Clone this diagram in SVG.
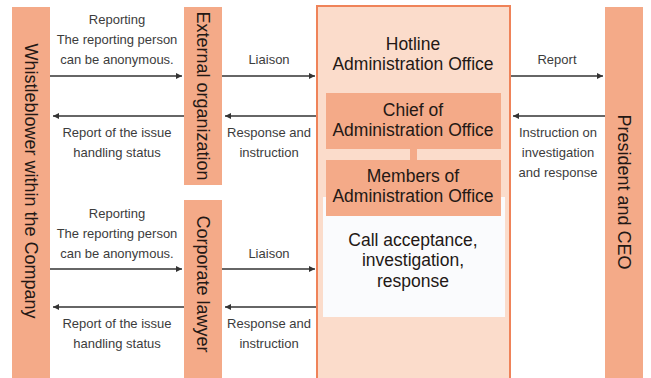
<svg xmlns="http://www.w3.org/2000/svg" width="651" height="378" viewBox="0 0 651 378">
  <defs>
    <marker id="arr" viewBox="0 0 10 10" refX="10" refY="5" markerWidth="6" markerHeight="6" markerUnits="userSpaceOnUse" orient="auto">
      <path d="M0,0 L10,5 L0,10 z" fill="#333"/>
    </marker>
    <style>
      .bar { fill: #f4aa88; }
      .inner { fill: #f4aa88; }
      .frame { fill: #fbdccb; stroke: #ef8359; stroke-width: 2; }
      .panel { fill: #fafbfd; }
      .vt { font-family: "Liberation Sans", Arial, sans-serif; font-size: 18px; fill: #231815; text-anchor: middle; }
      .bt { font-family: "Liberation Sans", Arial, sans-serif; font-size: 17.5px; fill: #231815; text-anchor: middle; }
      .lb { font-family: "Liberation Sans", Arial, sans-serif; font-size: 13px; fill: #3c3c3c; text-anchor: middle; }
      .ln { stroke: #333; stroke-width: 1.6; fill: none; marker-end: url(#arr); }
    </style>
  </defs>
  <rect width="651" height="378" fill="#ffffff"/>

  <!-- left column: whistleblower -->
  <g id="whistleblower">
    <rect class="bar" x="12" y="7" width="38" height="371"/>
    <text class="vt" transform="translate(31,181) rotate(90)" y="6.3">Whistleblower within the Company</text>
  </g>

  <!-- external organization -->
  <g id="external-organization">
    <rect class="bar" x="184" y="7" width="38" height="178"/>
    <text class="vt" transform="translate(203,96) rotate(90)" y="6.3">External organization</text>
  </g>

  <!-- corporate lawyer -->
  <g id="corporate-lawyer">
    <rect class="bar" x="184" y="200" width="38" height="178"/>
    <text class="vt" transform="translate(203,284) rotate(90)" y="6.3">Corporate lawyer</text>
  </g>

  <!-- hotline administration office -->
  <g id="hotline-office">
    <rect class="frame" x="317" y="6" width="193" height="380"/>
    <text class="bt" x="413" y="50">Hotline</text>
    <text class="bt" x="413" y="70">Administration Office</text>
    <rect class="panel" x="323" y="197" width="182" height="120"/>
    <text class="bt" x="413" y="246">Call acceptance,</text>
    <text class="bt" x="413" y="266">investigation,</text>
    <text class="bt" x="413" y="287">response</text>
  </g>

  <g id="chief">
    <rect class="inner" x="326" y="93" width="175" height="56"/>
    <text class="bt" x="413" y="116">Chief of</text>
    <text class="bt" x="413" y="136">Administration Office</text>
  </g>

  <g id="members">
    <rect class="inner" x="326" y="160" width="175" height="56"/>
    <text class="bt" x="413" y="182">Members of</text>
    <text class="bt" x="413" y="202">Administration Office</text>
  </g>

  <!-- president -->
  <g id="president">
    <rect class="bar" x="605" y="7" width="38" height="371"/>
    <text class="vt" transform="translate(624,192) rotate(90)" y="6.3">President and CEO</text>
  </g>

  <!-- connectors -->
  <g id="connectors">
    <rect class="inner" x="410" y="149" width="7" height="11"/>

    <line class="ln" x1="50" y1="76" x2="182" y2="76"/>
    <line class="ln" x1="222" y1="76" x2="315" y2="76"/>
    <line class="ln" x1="184" y1="116" x2="53" y2="116"/>
    <line class="ln" x1="316" y1="116" x2="225" y2="116"/>

    <line class="ln" x1="50" y1="269" x2="182" y2="269"/>
    <line class="ln" x1="222" y1="269" x2="315" y2="269"/>
    <line class="ln" x1="184" y1="307" x2="53" y2="307"/>
    <line class="ln" x1="316" y1="307" x2="225" y2="307"/>

    <line class="ln" x1="511" y1="76" x2="603" y2="76"/>
    <line class="ln" x1="605" y1="116" x2="513" y2="116"/>

    <!-- labels -->
    <text class="lb" x="117" y="24">Reporting</text>
    <text class="lb" x="117" y="44">The reporting person</text>
    <text class="lb" x="117" y="64">can be anonymous.</text>
    <text class="lb" x="269" y="64">Liaison</text>
    <text class="lb" x="117" y="137">Report of the issue</text>
    <text class="lb" x="117" y="157">handling status</text>
    <text class="lb" x="269" y="137">Response and</text>
    <text class="lb" x="269" y="157">instruction</text>

    <text class="lb" x="117" y="218">Reporting</text>
    <text class="lb" x="117" y="238">The reporting person</text>
    <text class="lb" x="117" y="258">can be anonymous.</text>
    <text class="lb" x="269" y="258">Liaison</text>
    <text class="lb" x="117" y="328">Report of the issue</text>
    <text class="lb" x="117" y="348">handling status</text>
    <text class="lb" x="269" y="328">Response and</text>
    <text class="lb" x="269" y="348">instruction</text>

    <text class="lb" x="557" y="64">Report</text>
    <text class="lb" x="558" y="137">Instruction on</text>
    <text class="lb" x="558" y="157">investigation</text>
    <text class="lb" x="558" y="177">and response</text>
  </g>
</svg>
